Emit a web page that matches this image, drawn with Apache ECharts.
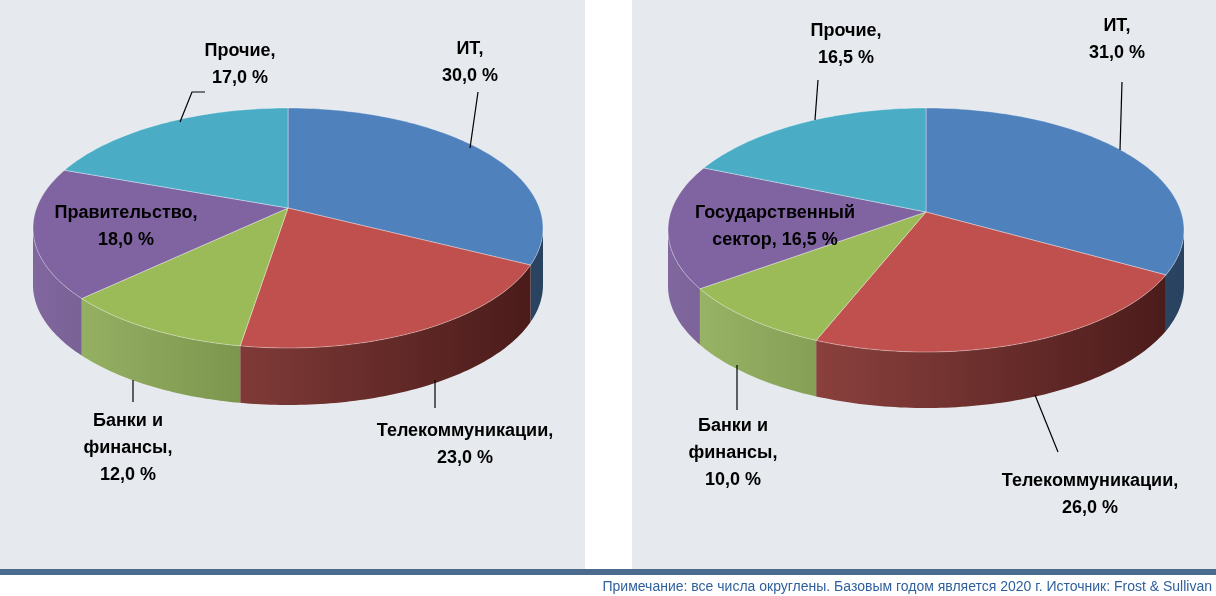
<!DOCTYPE html>
<html><head><meta charset="utf-8">
<script src="https://cdn.jsdelivr.net/npm/echarts@6/dist/echarts.min.js"></script>
<style>html,body{margin:0;padding:0;background:#fff}#c{width:1216px;height:596px}</style>
</head><body><div id="c"></div>
<script>
const categories = ['ИТ','Телекоммуникации','Банки и финансы','Правительство','Прочие'];
const leftValues = [30.0, 23.0, 12.0, 18.0, 17.0];
const rightCategories = ['ИТ','Телекоммуникации','Банки и финансы','Государственный сектор','Прочие'];
const rightValues = [31.0, 26.0, 10.0, 16.5, 16.5];
const colors = ['#4f81bd','#c0504d','#9bbb59','#8064a2','#4bacc6'];
const sideLight = ['#5f86b8','#a5504c','#9cb868','#80679e','#4fa6be'];
const sideDark = ['#28425f','#481a19','#4e6429','#3e3052','#27596a'];
const note = 'Примечание: все числа округлены. Базовым годом является 2020 г. Источник: Frost & Sullivan';
const fmt = v => v.toFixed(1).replace('.', ',') + ' %';

function pieSeries(values, geo) {
  const total = values.reduce((a,b)=>a+b,0);
  return {
    type:'custom', coordinateSystem:'none', silent:true, z:2,
    data: values.map(v=>({value:v})),
    renderItem(params, api) {
      const i = params.dataIndex;
      let cum = 0; for (let k=0;k<i;k++) cum += values[k];
      const t0 = -Math.PI/2 + 2*Math.PI*cum/total;
      const t1 = t0 + 2*Math.PI*values[i]/total;
      const {cx,cy,rx,ry,d,ay} = geo;
      const P = t => [cx+rx*Math.cos(t), cy+ry*Math.sin(t)];
      const arc = (a,b,dy) => { const n=Math.max(4,Math.ceil((b-a)/0.02)); const r=[]; for(let j=0;j<=n;j++){const t=a+(b-a)*j/n; const p=P(t); r.push([p[0],p[1]+dy]);} return r; };
      const children = [];
      const a = Math.max(t0,0), b = Math.min(t1,Math.PI);
      if (b > a) {
        const top = arc(a,b,0), bot = arc(a,b,d).reverse();
        children.push({type:'polygon', shape:{points:top.concat(bot)}, style:{
          fill:{type:'linear', x:cx-rx, y:0, x2:cx+rx, y2:0, global:true,
            colorStops:[{offset:0,color:sideLight[i]},{offset:1,color:sideDark[i]}]}}});
      }
      children.push({type:'polygon', shape:{points:[[cx,ay]].concat(arc(t0,t1,0))},
        style:{fill:colors[i], stroke:'rgba(255,255,255,0.35)', lineWidth:1}});
      return {type:'group', children};
    }
  };
}

const lbl = (x,y,text) => ({type:'text', z:100, x, y, style:{text, fill:'#000', font:'bold 18px "Liberation Sans", Arial', align:'center', verticalAlign:'top', lineHeight:27}});
const line = pts => ({type:'polyline', z:100, shape:{points:pts}, style:{stroke:'#000', lineWidth:1.2, fill:null}});
const L = leftValues, R = rightValues;

const chart = echarts.init(document.getElementById('c'));
chart.setOption({
  animation:false,
  series:[
    pieSeries(leftValues,{cx:288,cy:228,rx:255,ry:120,d:57,ay:208}),
    pieSeries(rightValues,{cx:926,cy:230,rx:258,ry:122,d:56,ay:212})
  ],
  graphic:[
    {type:'rect', z:-10, shape:{x:0,y:0,width:585,height:570}, style:{fill:'#e6eaee'}},
    {type:'rect', z:-10, shape:{x:632,y:0,width:584,height:570}, style:{fill:'#e6eaee'}},
    {type:'rect', shape:{x:0,y:569,width:1216,height:6}, style:{fill:'#4a6b8e'}},
    {type:'text', x:1212, y:580, style:{text:note, fill:'#2f5f9c', font:'14px "Liberation Sans", Arial', align:'right', verticalAlign:'top'}},
    line([[180,122],[192,92],[205,92]]),
    line([[470,148],[478,92]]),
    line([[435,380],[435,408]]),
    line([[133,380],[133,402]]),
    line([[815,120],[818,80]]),
    line([[1120,150],[1122,82]]),
    line([[1035,395],[1058,452]]),
    line([[737,365],[737,410]]),
    lbl(240,38,categories[4]+',\n'+fmt(L[4])),
    lbl(470,36,categories[0]+',\n'+fmt(L[0])),
    lbl(126,200,categories[3]+',\n'+fmt(L[3])),
    lbl(128,408,'Банки и\nфинансы,\n'+fmt(L[2])),
    lbl(465,418,categories[1]+',\n'+fmt(L[1])),
    lbl(846,18,rightCategories[4]+',\n'+fmt(R[4])),
    lbl(1117,13,rightCategories[0]+',\n'+fmt(R[0])),
    lbl(775,200,'Государственный\nсектор, '+fmt(R[3])),
    lbl(733,413,'Банки и\nфинансы,\n'+fmt(R[2])),
    lbl(1090,468,rightCategories[1]+',\n'+fmt(R[1]))
  ]
});
</script></body></html>
